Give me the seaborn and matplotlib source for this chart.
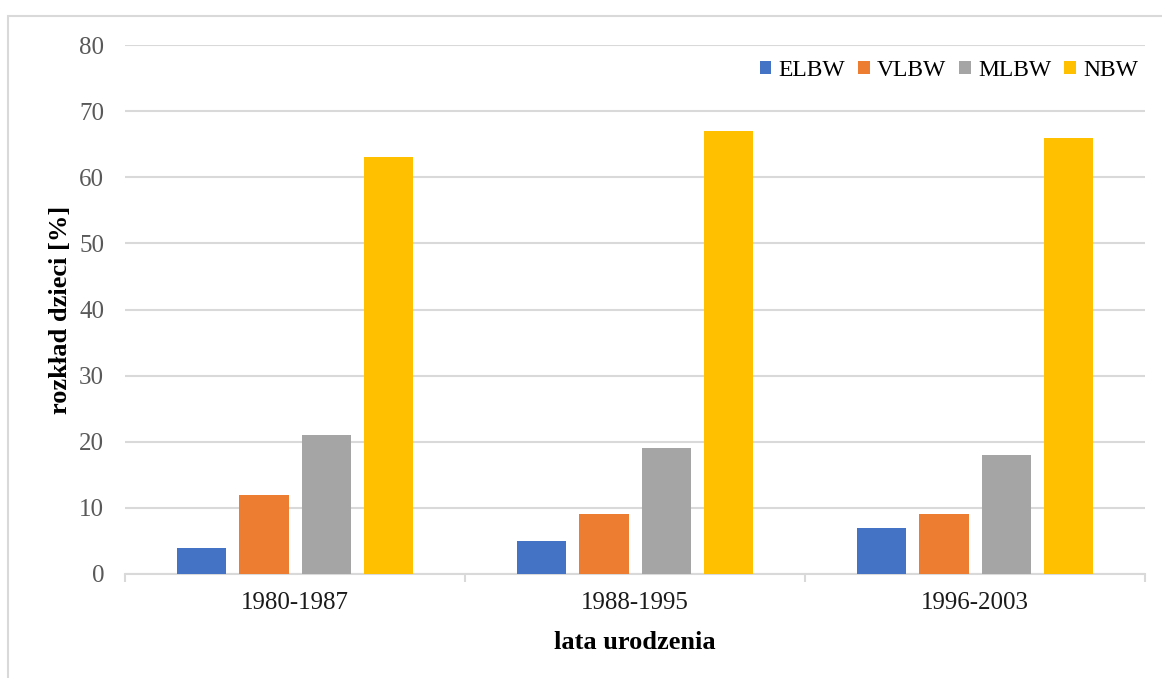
import numpy as np
import pandas as pd
import seaborn as sns
import matplotlib.pyplot as plt
from matplotlib.patches import Rectangle, Patch

# data
years = ['1980-1987', '1988-1995', '1996-2003']
groups = ['ELBW', 'VLBW', 'MLBW', 'NBW']
elbw = [4, 5, 7]
vlbw = [12, 9, 9]
mlbw = [21, 19, 18]
nbw = [63, 67, 66]
colors = ['#4472C4', '#ED7D31', '#A5A5A5', '#FFC000']

df = pd.DataFrame({'lata': years * 4,
                   'grupa': np.repeat(groups, 3),
                   'proc': elbw + vlbw + mlbw + nbw})

sns.set_theme(style='white')
plt.rcParams['font.family'] = ['Liberation Serif', 'DejaVu Serif']

fig = plt.figure(figsize=(11.62, 6.78), dpi=100)
ax = fig.add_axes([0.1076, 0.1534, 0.8778, 0.7802])

sns.barplot(data=df, x='lata', y='proc', hue='grupa', palette=colors,
            saturation=1, width=0.73, gap=0.21, linewidth=0, edgecolor='none',
            ax=ax, legend=False, zorder=3)

ax.set_ylim(0, 80)
ax.set_xlim(-0.5, 2.5)
ax.set_yticks(range(0, 81, 10))
ax.yaxis.grid(True, color='#D9D9D9', linewidth=1.5, zorder=0)
ax.set_axisbelow(True)
for s in ['top', 'right', 'left']:
    ax.spines[s].set_visible(False)
ax.spines['bottom'].set_color('#D9D9D9')
ax.spines['bottom'].set_linewidth(1.5)

ax.tick_params(axis='y', length=0, labelsize=18, labelcolor='#595959', pad=15)
ax.tick_params(axis='x', which='major', bottom=False, length=0, labelsize=18,
               labelcolor='#1a1a1a', pad=13)
ax.set_xticks([-0.5, 0.5, 1.5, 2.5], minor=True)
ax.tick_params(axis='x', which='minor', bottom=True, length=6, width=1.5, color='#D9D9D9')

ax.set_xlabel('lata urodzenia', fontsize=19, fontweight='bold', color='black', labelpad=12)
ax.set_ylabel('rozkład dzieci [%]', fontsize=19, fontweight='bold', color='black')
ax.yaxis.set_label_coords(-0.052, 0.5)

handles = [Patch(facecolor=c, edgecolor='none') for c in colors]
ax.legend(handles, groups, loc='upper right', bbox_to_anchor=(1.0, 0.985), ncol=4,
          frameon=False, fontsize=17, handlelength=0.5, handleheight=0.5,
          handletextpad=0.3, columnspacing=0.55, borderaxespad=0.1, borderpad=0.2,
          labelcolor='black')

fig.patches.append(Rectangle((0.0069, -0.01), 1.0, 0.986, transform=fig.transFigure,
                             fill=False, edgecolor='#D9D9D9', linewidth=1.5))

fig.savefig('out.png', dpi=100)
